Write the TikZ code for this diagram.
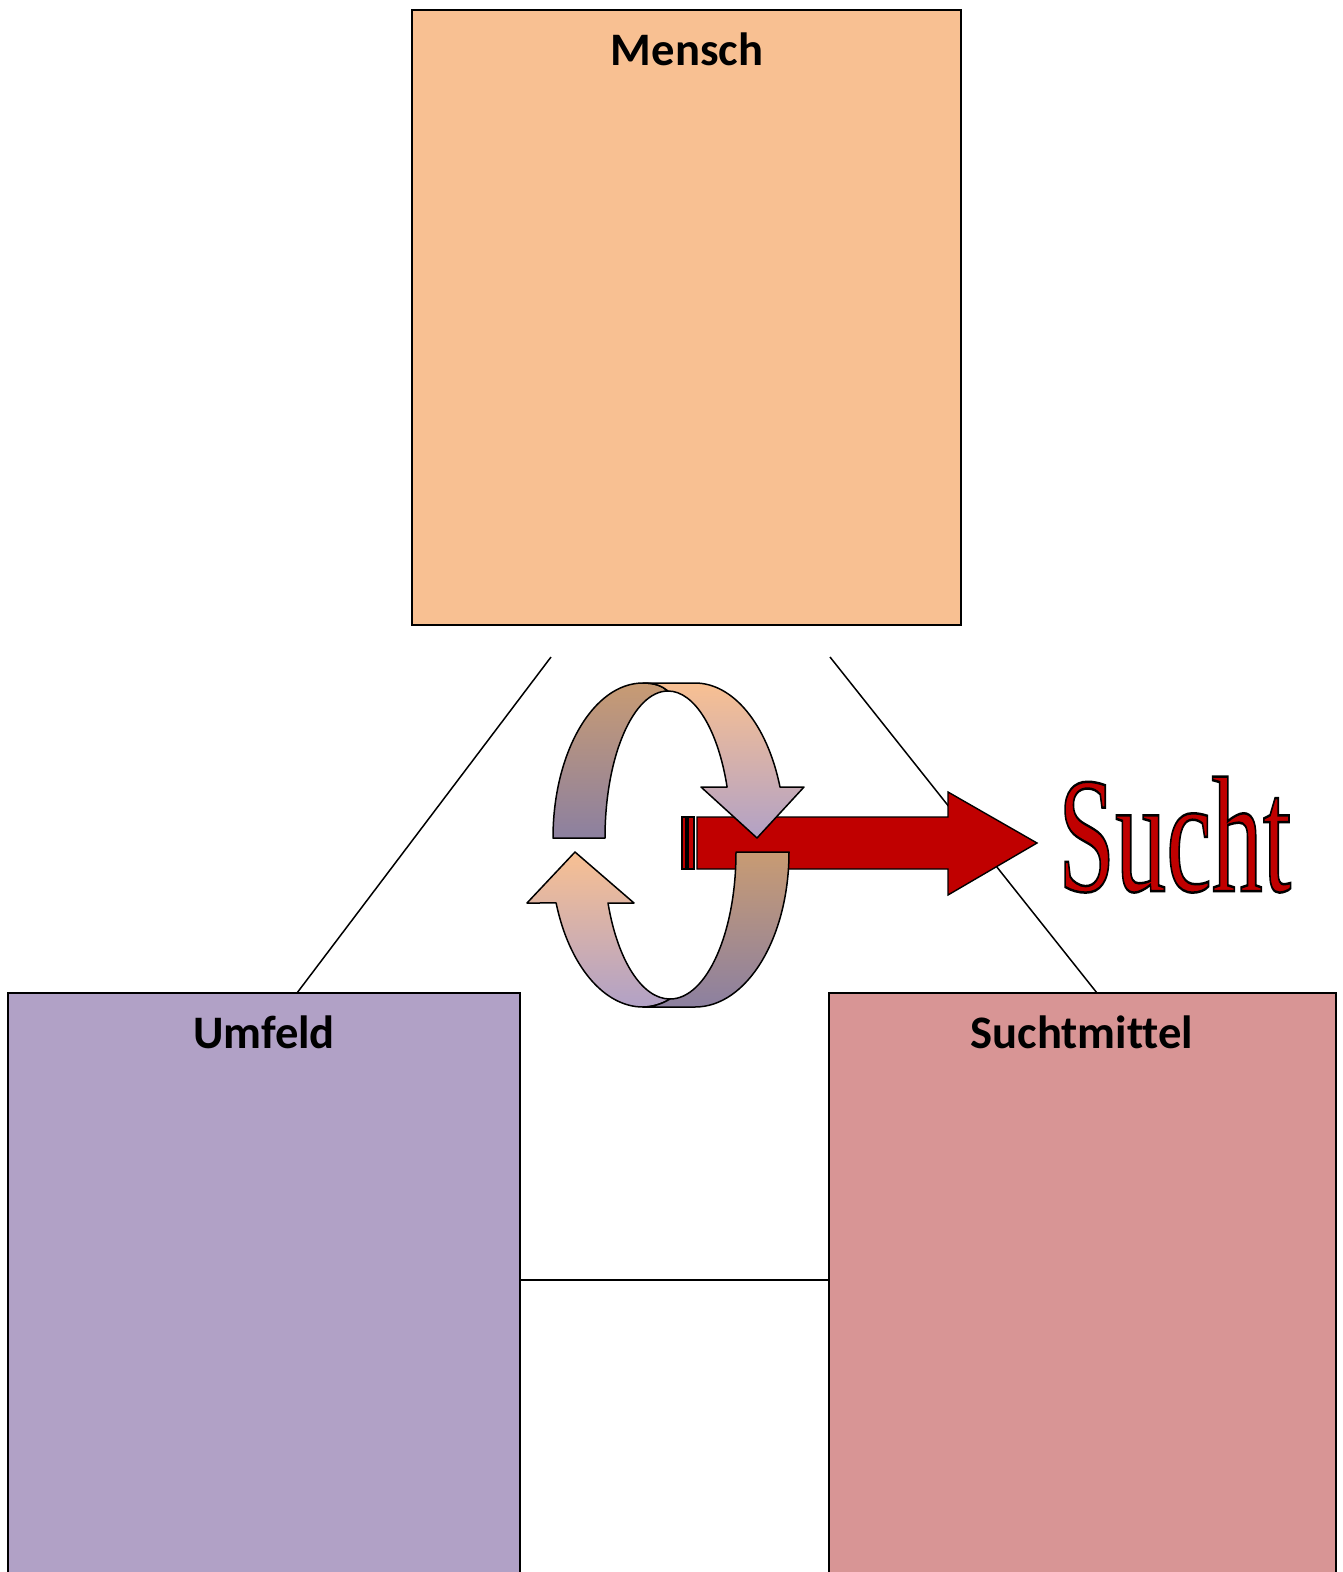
\documentclass[tikz,border=0pt]{standalone}
\usepackage{fontspec}
\usepackage{graphicx}
\setmainfont{Carlito}[Ligatures=NoCommon]
\newfontfamily\suchtfont{Liberation Serif}
\definecolor{menschc}{RGB}{248,192,146}
\definecolor{umfeldc}{RGB}{177,161,198}
\definecolor{suchtmc}{RGB}{216,149,149}
\definecolor{tanc}{RGB}{200,155,115}
\definecolor{greyp}{RGB}{140,128,160}
\definecolor{suchtred}{RGB}{192,0,0}
\begin{document}
\begin{tikzpicture}[x=1pt,y=-1pt,
  box/.style={draw=black, line width=1.7pt, inner sep=0pt, outer sep=0pt},
  title/.style={font=\fontsize{46.6}{50}\selectfont\bfseries, anchor=base, inner sep=0pt},
  link/.style={draw=black, line width=1.5pt},
  ribbon/.style={draw=black, line width=1.5pt, line join=round},
  redarrow/.style={draw=black, line width=1.4pt, fill=suchtred, line join=miter}]
\useasboundingbox (0,0) rectangle (1343,1572);
\clip (0,0) rectangle (1343,1572);
% boxes
\node[box, fill=menschc, minimum width=549pt, minimum height=615pt] (mensch) at (686.5,317.5) {};
\node[box, fill=umfeldc, minimum width=512pt, minimum height=597pt] (umfeld) at (264,1291.5) {};
\node[box, fill=suchtmc, minimum width=507pt, minimum height=597pt] (suchtmittel) at (1082.5,1291.5) {};
\node[title] (tmensch) at (687,65) {Mensch};
\node[title] (tumfeld) at (264,1048) {Umfeld};
\node[title] (tsuchtm) at (1082,1048) {Suchtmittel};
% connectors
\coordinate (ml) at (551,657);
\coordinate (mr) at (830,657);
\coordinate (ulx) at (297,0);
\coordinate (srx) at (1097,0);
\coordinate (hy) at (0,1280);
\draw[link] (ml) -- (umfeld.north -| ulx);
\draw[link] (mr) -- (suchtmittel.north -| srx);
\draw[link] (umfeld.east |- hy) -- (suchtmittel.west |- hy);
% red arrow
\path[redarrow] (682,817) rectangle (686,869);
\path[redarrow] (688,817) rectangle (694,869);
\path[redarrow] (697,817) -- (948,817) -- (948,792) -- (1037,843) -- (948,895) -- (948,869) -- (697,869) -- cycle;
% top ribbon
\path[ribbon, top color=tanc, bottom color=greyp]
  (553,838) arc[start angle=180, end angle=270, x radius=90, y radius=155]
  .. controls (655,683) and (662,686) .. (668,691)
  arc[start angle=270, end angle=180, x radius=63, y radius=147] -- cycle;
\path[ribbon, top color=menschc, bottom color=umfeldc]
  (643,683) -- (695,683)
  arc[start angle=270, end angle=340.8, x radius=90, y radius=155]
  -- (804,787) -- (757,838) -- (701,787) -- (727.1,787)
  arc[start angle=339.7, end angle=270, x radius=63, y radius=147]
  .. controls (662,686) and (655,683) .. (643,683) -- cycle;
% bottom ribbon
\path[ribbon, top color=menschc, bottom color=umfeldc]
  (643,1007) arc[start angle=90, end angle=160.8, x radius=92, y radius=155]
  -- (527,903) -- (575,852) -- (634,903) -- (608,903)
  arc[start angle=159.7, end angle=90, x radius=66, y radius=147]
  .. controls (662,1004) and (652,1007) .. (643,1007) -- cycle;
\path[ribbon, top color=tanc, bottom color=greyp]
  (643,1007) -- (695,1007)
  arc[start angle=90, end angle=0, x radius=94, y radius=155]
  -- (736,852)
  arc[start angle=0, end angle=90, x radius=66, y radius=147]
  .. controls (662,1004) and (652,1007) .. (643,1007) -- cycle;
% Sucht
\node[anchor=base west, inner sep=0pt] (sucht) at (1058,891)
  {\scalebox{0.62}[1]{\fontsize{165}{170}\selectfont\suchtfont\color{suchtred}\special{pdf:literal direct 0 G 2.5 w 2 Tr}Sucht\special{pdf:literal direct 0 Tr}}};
\end{tikzpicture}
\end{document}
